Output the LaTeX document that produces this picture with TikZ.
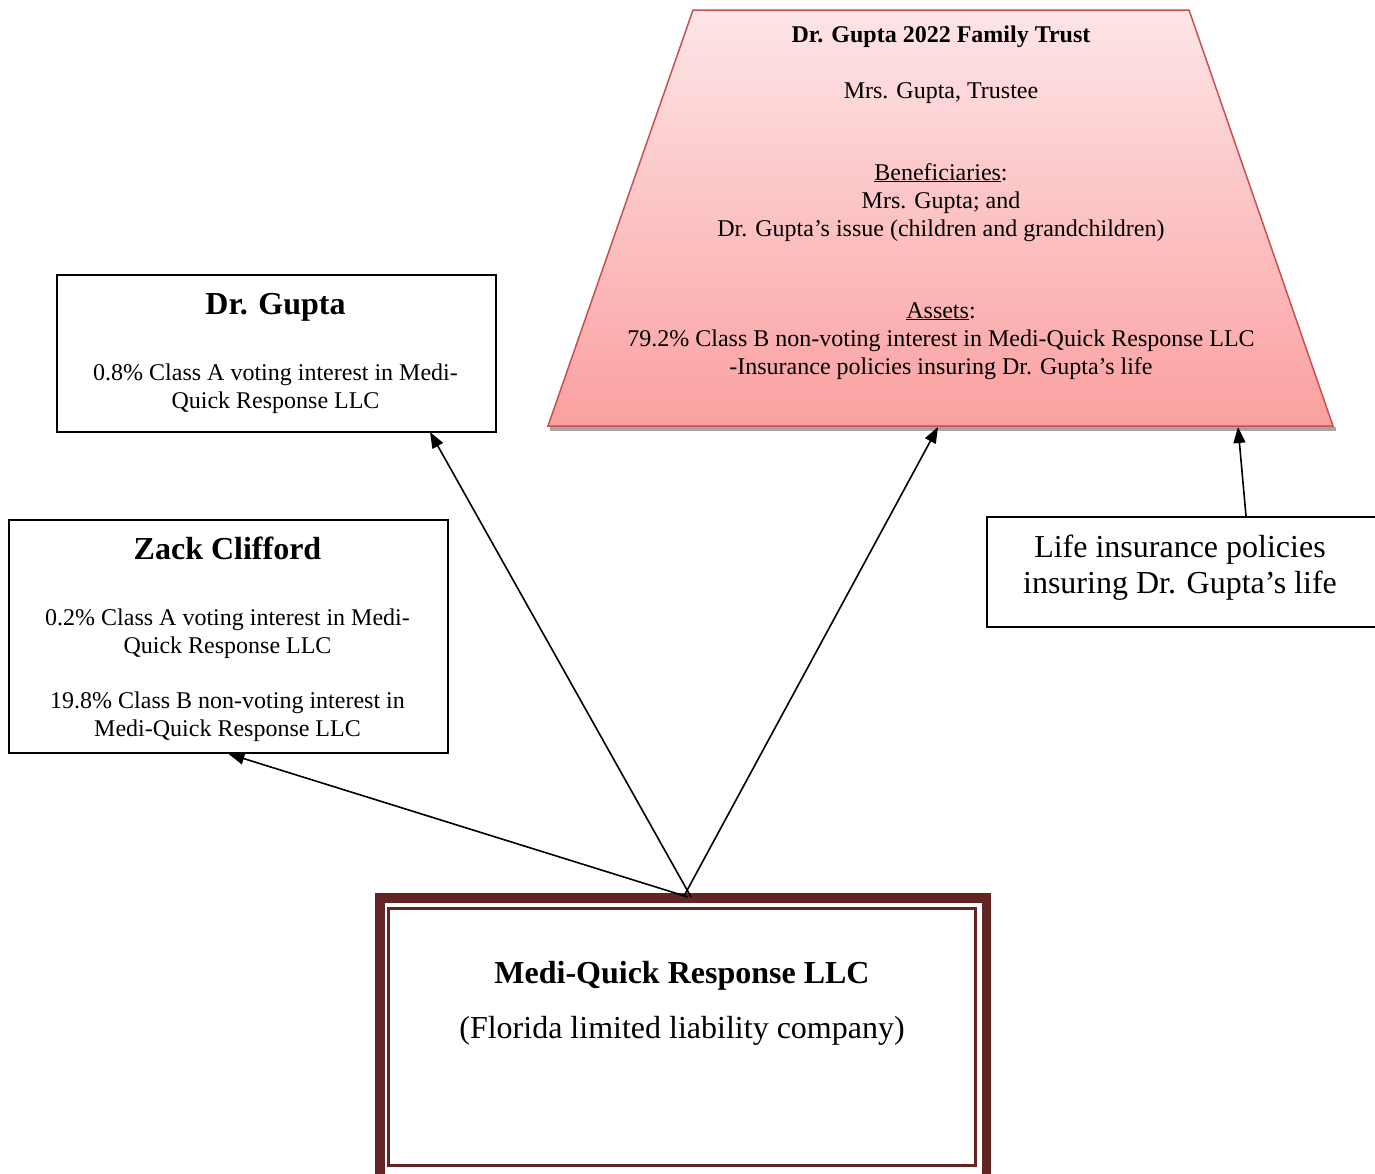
\documentclass[tikz,border=0pt]{standalone}
\usepackage{fontspec}
\setmainfont{Liberation Serif}
\usetikzlibrary{arrows.meta}
\definecolor{llcmaroon}{RGB}{99,37,35}
\definecolor{trustedge}{RGB}{200,80,78}
\definecolor{trusttop}{RGB}{253,229,231}
\definecolor{trustbot}{RGB}{251,160,160}
\tikzset{
  holder/.style={draw=black, line width=1.8pt, fill=white},
  body/.style={font=\fontsize{24}{28}\selectfont, align=center, inner sep=0pt, anchor=base},
  head/.style={font=\fontsize{32}{36}\selectfont\bfseries, inner sep=0pt, anchor=base},
  big/.style={font=\fontsize{32}{36}\selectfont, align=center, inner sep=0pt, anchor=base},
  own/.style={line width=1.6pt, -{Triangle[length=16pt,width=12pt]}},
}
\begin{document}
\begin{tikzpicture}[x=1pt,y=-1pt]
\useasboundingbox (0,0) rectangle (1375,1173);
\clip (0,0) rectangle (1375,1173);

% Family trust (trapezium with soft shadow)
\fill[black!35] (550,427) rectangle (1336,431);
\shade[top color=trusttop, bottom color=trustbot, draw=trustedge, line width=1.5pt]
  (693,10) -- (1189,10) -- (1333,426) -- (548,426) -- cycle;
\coordinate (trustA) at (938,427);
\coordinate (trustB) at (1238,427);
\node[body, font=\fontsize{24}{28}\selectfont\bfseries] (t1) at (941,42) {Dr. Gupta 2022 Family Trust};
\node[body] (t2) at (941,98) {Mrs. Gupta, Trustee};
\node[body] (t3) at (941,236) {\underline{Beneficiaries}:\\Mrs. Gupta; and\\Dr. Gupta’s issue (children and grandchildren)};
\node[body] (t4) at (941,374) {\underline{Assets}:\\79.2\% Class B non-voting interest in Medi-Quick Response LLC\\-Insurance policies insuring Dr. Gupta’s life};

% Dr. Gupta
\node[holder, minimum width=439pt, minimum height=157pt, anchor=north west] (gupta) at (56,274) {};
\coordinate (guptaIn) at (430,432);
\node[head] (g1) at (275.5,314) {Dr. Gupta};
\node[body] (g2) at (275.5,408) {0.8\% Class A voting interest in Medi-\\Quick Response LLC};

% Zack Clifford
\node[holder, minimum width=439pt, minimum height=233pt, anchor=north west] (zack) at (8,519) {};
\node[head] (z1) at (227.5,559) {Zack Clifford};
\node[body] (z2) at (227.5,653) {0.2\% Class A voting interest in Medi-\\Quick Response LLC};
\node[body] (z3) at (227.5,736) {19.8\% Class B non-voting interest in\\Medi-Quick Response LLC};

% Life insurance
\node[holder, minimum width=400pt, minimum height=110pt, anchor=north west] (life) at (986,516) {};
\coordinate (lifeOut) at (1246,516);
\node[big] (l1) at (1180,593) {Life insurance policies\\insuring Dr. Gupta’s life};

% Medi-Quick Response LLC (double frame)
\node[minimum width=616pt, minimum height=290pt, anchor=north west, inner sep=0pt] (llc) at (375,893) {};
\draw[llcmaroon, line width=9.5pt] (379.75,897.75) rectangle (986.25,1190);
\draw[llcmaroon, line width=3pt] (388.5,908) rectangle (975.5,1165);
\node[head] (m1) at (682,983) {Medi-Quick Response LLC};
\node[big] (m2) at (682,1038) {(Florida limited liability company)};

% Ownership arrows
\coordinate (srcZ) at (688,897);
\coordinate (srcG) at (691,897);
\coordinate (srcT) at (684,896);
\draw[own] (srcZ) -- (zack.south);
\draw[own] (srcG) -- (guptaIn);
\draw[own] (srcT) -- (trustA);
\draw[own] (lifeOut) -- (trustB);
\end{tikzpicture}
\end{document}
